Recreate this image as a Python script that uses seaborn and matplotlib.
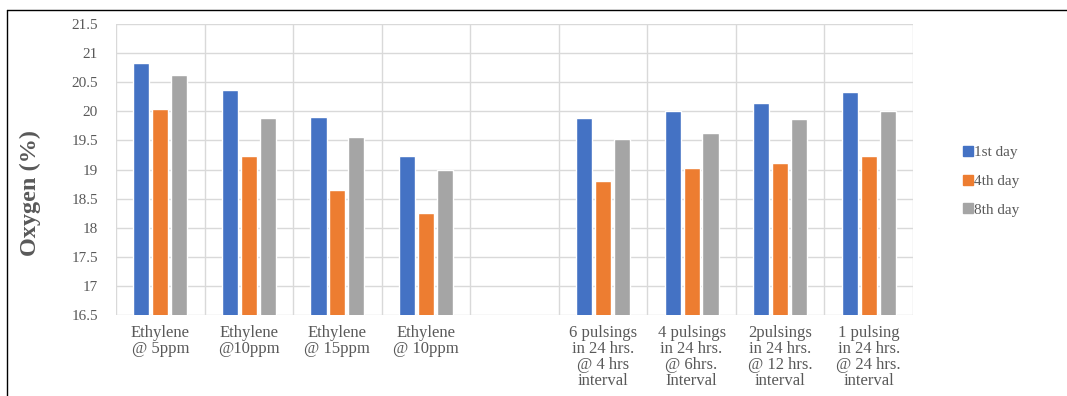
import numpy as np
import pandas as pd
import matplotlib
matplotlib.use("Agg")
import matplotlib.pyplot as plt
from matplotlib.lines import Line2D
from matplotlib.ticker import FuncFormatter, MultipleLocator, FixedLocator
import seaborn as sns

categories = ["Ethylene\n@ 5ppm", "Ethylene\n@10ppm", "Ethylene\n@ 15ppm", "Ethylene\n@ 10ppm", " ",
              "6 pulsings\nin 24 hrs.\n@ 4 hrs\ninterval", "4 pulsings\nin 24 hrs.\n@ 6hrs.\nInterval",
              "2pulsings\nin 24 hrs.\n@ 12 hrs.\ninterval", "1 pulsing\nin 24 hrs.\n@ 24 hrs.\ninterval"]
series_names = ["1st day", "4th day", "8th day"]
day1 = [20.83, 20.37, 19.91, 19.23, np.nan, 19.88, 20.00, 20.14, 20.33]
day4 = [20.04, 19.23, 18.65, 18.26, np.nan, 18.81, 19.02, 19.12, 19.23]
day8 = [20.62, 19.88, 19.55, 18.99, np.nan, 19.52, 19.62, 19.86, 20.00]
colors = ["#4472C4", "#ED7D31", "#A5A5A5"]

rows = []
for name, vals in zip(series_names, [day1, day4, day8]):
    for c, v in zip(categories, vals):
        rows.append({"cat": c, "series": name, "val": v})
df = pd.DataFrame(rows)

sns.set_style("white")
plt.rcParams["font.family"] = ["Liberation Serif", "DejaVu Serif"]

fig = plt.figure(figsize=(10.67, 3.96), dpi=100)
ax = fig.add_axes([116/1067, 1-315/396, (913-116)/1067, (315-24)/396])

sns.barplot(data=df, x="cat", y="val", hue="series", order=categories, hue_order=series_names,
            palette=colors, width=0.64, gap=0.15, ax=ax, legend=False, saturation=1,
            errorbar=None)

ax.set_ylim(16.5, 21.5)
ax.set_xlim(-0.5, len(categories) - 0.5)
ax.yaxis.set_major_locator(MultipleLocator(0.5))
ax.yaxis.set_major_formatter(FuncFormatter(lambda v, p: f"{v:g}"))
ax.xaxis.set_minor_locator(FixedLocator(np.arange(-0.5, len(categories), 1.0)))
ax.grid(axis="y", which="major", color="#D9D9D9", linewidth=1)
ax.grid(axis="x", which="minor", color="#D9D9D9", linewidth=1)
ax.set_axisbelow(True)
for s in ax.spines.values():
    s.set_visible(False)
ax.tick_params(axis="both", which="both", length=0)
ax.tick_params(axis="y", labelsize=11, labelcolor="#595959", pad=13)
ax.tick_params(axis="x", labelsize=12, labelcolor="#595959", pad=7)
for t in ax.get_xticklabels():
    t.set_linespacing(1.0)
    t.set_va("top")
ax.set_xlabel("")
ax.set_ylabel("")

fig.text(30/1067, 1-193/396, "Oxygen (%)", rotation=90, ha="center", va="center",
         fontsize=17.5, fontweight="bold", color="#595959")

handles = [Line2D([0], [0], marker="s", linestyle="none", markersize=7, markerfacecolor=c,
                  markeredgecolor=c) for c in colors]
fig.legend(handles, series_names, loc="center left", bbox_to_anchor=(950/1067, 1-181/396),
           frameon=False, fontsize=11, handlelength=0.6, handletextpad=0.1, labelspacing=1.0,
           labelcolor="#595959")

fig.add_artist(Line2D([7/1067, 7/1067], [-0.05, 1-10/396], transform=fig.transFigure, color="black", lw=1))
fig.add_artist(Line2D([7/1067, 1.0], [1-10/396, 1-10/396], transform=fig.transFigure, color="black", lw=1))

fig.savefig("out.png", dpi=100)
